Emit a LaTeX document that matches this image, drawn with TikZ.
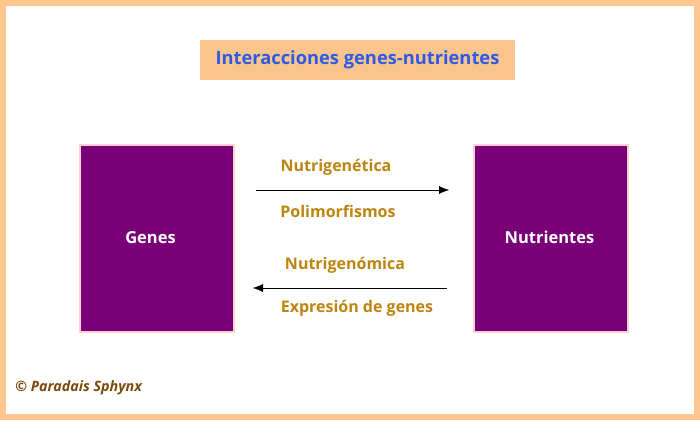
\documentclass[tikz,border=0pt]{standalone}
\usepackage{fontspec}
\setmainfont{Open Sans}
\usetikzlibrary{arrows.meta}
\definecolor{frameor}{HTML}{FDC68F}
\definecolor{titlebg}{HTML}{F9C58C}
\definecolor{titleblue}{HTML}{2D5BE6}
\definecolor{boxpurple}{HTML}{7A0078}
\definecolor{glow}{HTML}{FFD0D0}
\definecolor{lblgold}{HTML}{BD850F}
\definecolor{copybrown}{HTML}{7B4A0E}
\tikzset{
  x=1pt,y=-1pt,
  bigbox/.style={fill=boxpurple,draw=glow,line width=1.5pt,minimum width=154pt,minimum height=187pt,inner sep=0pt},
  boxtext/.style={text=white,font=\bfseries\fontsize{16.5}{18}\selectfont,inner sep=0pt},
  lbl/.style={text=lblgold,font=\bfseries\fontsize{16}{18}\selectfont,inner sep=0pt},
  conn/.style={-{Latex[length=10pt,width=8pt]},line width=0.4pt}
}
\begin{document}
\begin{tikzpicture}
\useasboundingbox (0,0) rectangle (700,420);
\fill[white] (0,0) rectangle (700,420);
\draw[frameor,line width=6pt] (3,3) rectangle (697,417);
\node[fill=titlebg,minimum width=315pt,minimum height=40pt,inner sep=0pt,text=titleblue,font=\bfseries\fontsize{18.3}{20}\selectfont] (title) at (357.5,60) {Interacciones genes-nutrientes};
\node[bigbox] (genes) at (157,238.5) {};
\node[bigbox] (nutr) at (551,238.5) {};
\node[boxtext] (genestxt) at (150.5,237.5) {Genes};
\node[boxtext] (nutrtxt) at (549.5,237.5) {Nutrientes};
\coordinate (a1s) at (256,190);
\coordinate (a1e) at (449,190);
\coordinate (a2s) at (447,288);
\coordinate (a2e) at (253,288);
\draw[conn] (a1s) -- (a1e);
\draw[conn] (a2s) -- (a2e);
\node[lbl] (l1) at (336,167) {Nutrigenética};
\node[lbl] (l2) at (338,211) {Polimorfismos};
\node[lbl] (l3) at (345,265) {Nutrigenómica};
\node[lbl] (l4) at (357,308) {Expresión de genes};
\node[text=copybrown,font=\bfseries\itshape\fontsize{14.3}{16}\selectfont,anchor=west,inner sep=0pt] (copy) at (15,388) {© Paradais Sphynx};
\end{tikzpicture}
\end{document}
